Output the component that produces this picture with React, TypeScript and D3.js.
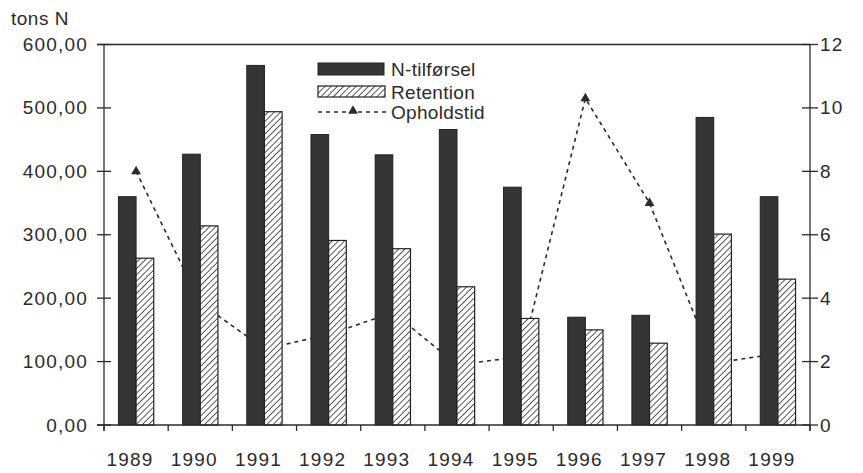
import React from "react";
import * as d3 from "d3";

const years = ["1989", "1990", "1991", "1992", "1993", "1994", "1995", "1996", "1997", "1998", "1999"];
const nTilforsel = [360, 427, 567, 458, 426, 466, 375, 170, 173, 485, 360];
const retention = [263, 314, 494, 291, 278, 218, 168, 150, 129, 301, 230];
const opholdstid = [8.0, 3.85, 2.4, 2.85, 3.55, 1.9, 2.15, 10.3, 7.0, 1.95, 2.25];
const leftTicks = [0, 100, 200, 300, 400, 500, 600];
const rightTicks = [0, 2, 4, 6, 8, 10, 12];
const legendLabels = ["N-tilførsel", "Retention", "Opholdstid"];

const W = 863;
const H = 473;
const left = 104;
const right = 810;
const top = 44.5;
const bottom = 425;
const ink = "#2b2b2b";
const barFill = "#353535";
const font = "'Liberation Sans', Arial, sans-serif";

export default function App() {
  const x = d3.scaleBand<string>().domain(years).range([left, right]).padding(0);
  const bw = x.bandwidth();
  const inner = d3
    .scaleBand<string>()
    .domain(["n", "r"])
    .range([bw * 0.225, bw * 0.775])
    .padding(0);
  const yL = d3.scaleLinear().domain([0, 600]).range([bottom, top]);
  const yR = d3.scaleLinear().domain([0, 12]).range([bottom, top]);
  const fmt = (v: number) => v.toFixed(2).replace(".", ",");

  const line = d3
    .line<number>()
    .x((_, i) => (x(years[i]) as number) + bw / 2)
    .y((d) => yR(d));
  const tri = d3.symbol().type(d3.symbolTriangle).size(42)();

  const boundaries = d3.range(years.length + 1).map((i) => left + i * bw);

  const labelStyle = { fontFamily: font, fontSize: 19, fill: ink, letterSpacing: 1.2 } as const;

  return (
    <svg width={W} height={H} style={{ position: "absolute", left: 0, top: 0, background: "#fff" }}>
      <defs>
        <pattern id="hatch" patternUnits="userSpaceOnUse" width="4.4" height="4.4" patternTransform="rotate(45)">
          <rect width="4.4" height="4.4" fill="#fff" />
          <line x1="0" y1="0" x2="0" y2="4.4" stroke="#222" strokeWidth="1.5" />
        </pattern>
      </defs>
      <rect width={W} height={H} fill="#fff" />

      {/* Line series (behind bars) */}
      <path d={line(opholdstid) || ""} fill="none" stroke={ink} strokeWidth={1.6} strokeDasharray="4,4" />
      {opholdstid.map((v, i) => (
        <path
          key={"m" + i}
          d={tri}
          transform={`translate(${(x(years[i]) as number) + bw / 2},${yR(v)})`}
          fill={ink}
        />
      ))}

      {/* Bars */}
      {years.map((yr, i) => {
        const x0 = x(yr) as number;
        return (
          <g key={yr}>
            <rect
              x={x0 + (inner("n") as number)}
              y={yL(nTilforsel[i])}
              width={inner.bandwidth()}
              height={bottom - yL(nTilforsel[i])}
              fill={barFill}
              stroke="#222"
              strokeWidth={1}
            />
            <rect
              x={x0 + (inner("r") as number)}
              y={yL(retention[i])}
              width={inner.bandwidth()}
              height={bottom - yL(retention[i])}
              fill="url(#hatch)"
              stroke="#222"
              strokeWidth={1.2}
            />
          </g>
        );
      })}

      {/* Frame / axes */}
      <line x1={left - 7} x2={right} y1={top} y2={top} stroke={ink} strokeWidth={1.3} />
      <line x1={left - 7} x2={right} y1={bottom} y2={bottom} stroke={ink} strokeWidth={1.3} />
      <line x1={left} x2={left} y1={top} y2={bottom + 6} stroke={ink} strokeWidth={1.3} />
      <line x1={right} x2={right} y1={top} y2={bottom + 6} stroke={ink} strokeWidth={1.3} />

      {boundaries.map((bx, i) => (
        <line key={"xt" + i} x1={bx} x2={bx} y1={bottom} y2={bottom + 6} stroke={ink} strokeWidth={1.3} />
      ))}
      {leftTicks.map((t) => (
        <g key={"lt" + t}>
          <line x1={left - 7} x2={left + 7} y1={yL(t)} y2={yL(t)} stroke={ink} strokeWidth={1.3} />
          <text x={88} y={yL(t) + 6.5} textAnchor="end" style={labelStyle}>
            {fmt(t)}
          </text>
        </g>
      ))}
      {rightTicks.map((t) => (
        <g key={"rt" + t}>
          <line x1={right - 8} x2={right + 8} y1={yR(t)} y2={yR(t)} stroke={ink} strokeWidth={1.3} />
          <text x={820} y={yR(t) + 6.5} textAnchor="start" style={labelStyle}>
            {t}
          </text>
        </g>
      ))}
      {years.map((yr) => (
        <text
          key={"xl" + yr}
          x={(x(yr) as number) + bw / 2 - 6}
          y={466}
          textAnchor="middle"
          style={labelStyle}
        >
          {yr}
        </text>
      ))}
      <text x={11} y={25} style={{ ...labelStyle, letterSpacing: 0.5 }}>
        tons N
      </text>

      {/* Legend */}
      <rect x={318} y={63} width={66} height={12} fill={barFill} stroke="#222" strokeWidth={1} />
      <rect x={318} y={86} width={67} height={11} fill="url(#hatch)" stroke="#222" strokeWidth={1.2} />
      <line x1={318} x2={388} y1={112} y2={112} stroke={ink} strokeWidth={1.6} strokeDasharray="4,4" />
      <path d={tri} transform="translate(353,111)" fill={ink} />
      {legendLabels.map((l, i) => (
        <text
          key={l}
          x={391}
          y={[76, 98.5, 119][i]}
          style={{ fontFamily: font, fontSize: 19, fill: ink, letterSpacing: 0.3 }}
        >
          {l}
        </text>
      ))}
    </svg>
  );
}
